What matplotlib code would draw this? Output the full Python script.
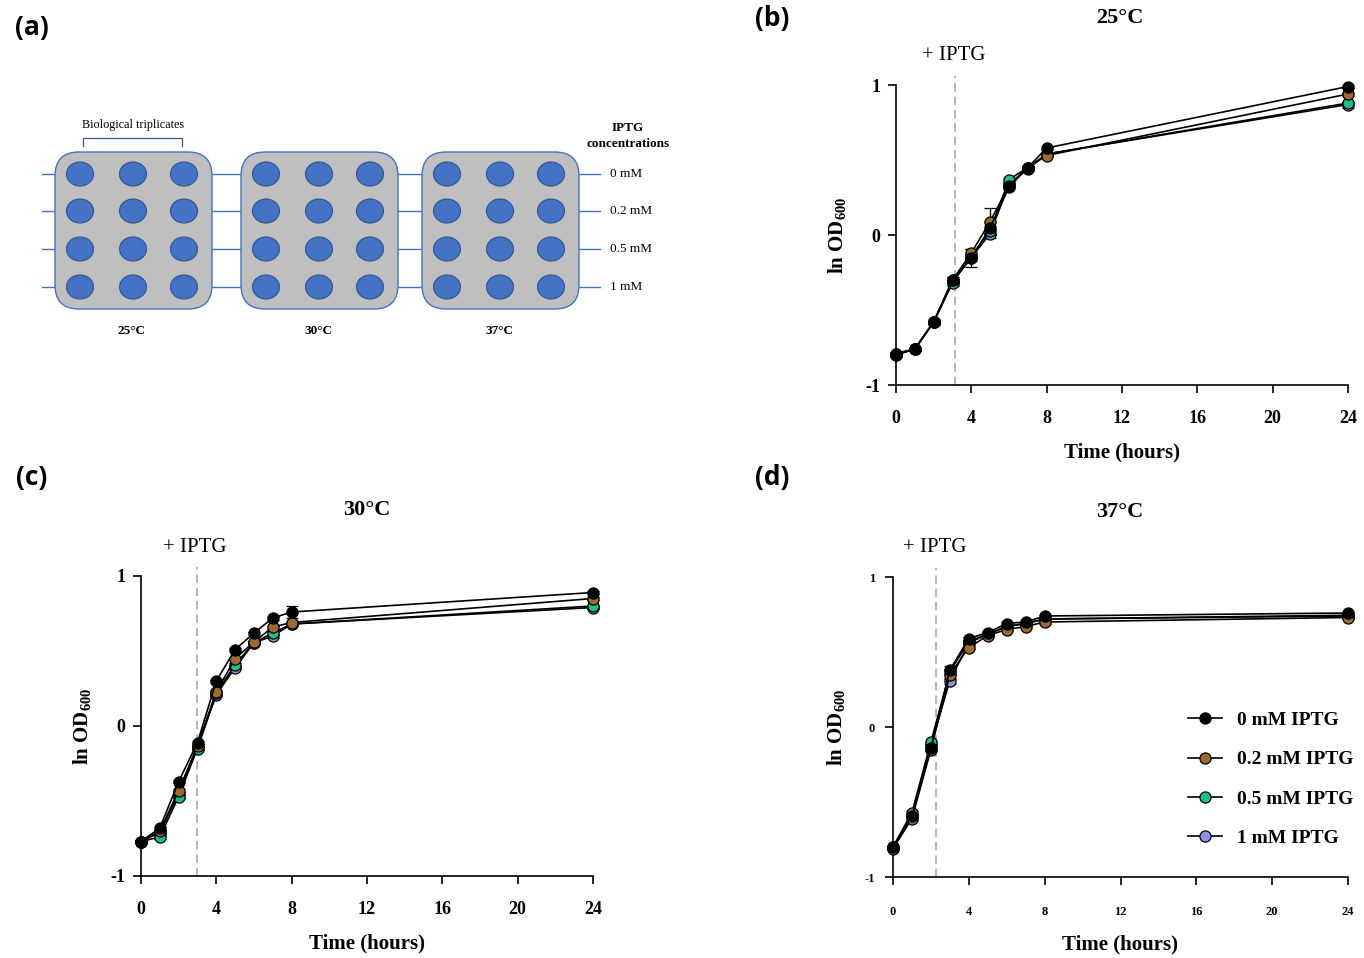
"""
Growth curves of the IPTG induction screen at three temperatures,
with the plate layout schematic in panel (a).
"""

import matplotlib
matplotlib.use("Agg")
import matplotlib.pyplot as plt
from matplotlib.patches import FancyBboxPatch, Ellipse
from matplotlib.lines import Line2D

plt.rcParams["font.family"] = ["Liberation Serif", "DejaVu Serif"]
plt.rcParams["mathtext.fontset"] = "custom"
plt.rcParams["mathtext.rm"] = "Liberation Serif"
plt.rcParams["mathtext.bf"] = "Liberation Serif:bold"
plt.rcParams["axes.unicode_minus"] = False

# --- Data (ln OD600) ---
hours = [0, 1, 2, 3, 4, 5, 6, 7, 8, 24]
conc_labels = ["0 mM IPTG", "0.2 mM IPTG", "0.5 mM IPTG", "1 mM IPTG"]
conc_colors = ["#000000", "#9c6b2e", "#19c282", "#8f8ff0"]

od25_0 = [-0.80, -0.76, -0.58, -0.30, -0.155, 0.05, 0.32, 0.45, 0.58, 0.99]
od25_02 = [-0.79, -0.76, -0.58, -0.30, -0.12, 0.09, 0.33, 0.45, 0.53, 0.94]
od25_05 = [-0.79, -0.76, -0.58, -0.32, -0.14, 0.03, 0.37, 0.45, 0.54, 0.88]
od25_1 = [-0.80, -0.76, -0.58, -0.31, -0.15, 0.01, 0.34, 0.44, 0.54, 0.87]
err25_0 = [0.01, 0.01, 0.02, 0.02, 0.06, 0.04, 0.01, 0.01, 0.01, 0.01]
err25_02 = [0.01, 0.01, 0.01, 0.02, 0.03, 0.09, 0.01, 0.01, 0.01, 0.01]
err25_05 = [0.01, 0.01, 0.01, 0.02, 0.02, 0.03, 0.01, 0.01, 0.01, 0.01]
err25_1 = [0.01, 0.01, 0.01, 0.02, 0.02, 0.03, 0.01, 0.01, 0.01, 0.02]

od30_0 = [-0.77, -0.68, -0.37, -0.11, 0.30, 0.51, 0.62, 0.72, 0.76, 0.89]
od30_02 = [-0.77, -0.70, -0.43, -0.13, 0.23, 0.45, 0.56, 0.66, 0.69, 0.85]
od30_05 = [-0.77, -0.74, -0.47, -0.15, 0.22, 0.41, 0.555, 0.62, 0.68, 0.80]
od30_1 = [-0.77, -0.71, -0.45, -0.14, 0.21, 0.39, 0.555, 0.60, 0.68, 0.79]
err30_0 = [0.01, 0.01, 0.01, 0.01, 0.01, 0.01, 0.01, 0.01, 0.04, 0.01]
err30_02 = [0.01, 0.01, 0.01, 0.01, 0.01, 0.01, 0.01, 0.01, 0.01, 0.01]
err30_05 = [0.01, 0.01, 0.01, 0.01, 0.01, 0.01, 0.01, 0.01, 0.01, 0.01]
err30_1 = [0.01, 0.01, 0.01, 0.01, 0.01, 0.01, 0.01, 0.01, 0.01, 0.01]

od37_0 = [-0.80, -0.59, -0.14, 0.38, 0.59, 0.63, 0.69, 0.70, 0.74, 0.76]
od37_02 = [-0.81, -0.61, -0.15, 0.35, 0.53, 0.61, 0.65, 0.67, 0.70, 0.73]
od37_05 = [-0.80, -0.57, -0.10, 0.37, 0.57, 0.62, 0.67, 0.69, 0.72, 0.74]
od37_1 = [-0.80, -0.59, -0.12, 0.31, 0.56, 0.62, 0.67, 0.69, 0.72, 0.745]
err37_0 = [0.01, 0.01, 0.01, 0.03, 0.01, 0.01, 0.01, 0.01, 0.01, 0.01]
err37_02 = [0.01, 0.01, 0.01, 0.03, 0.01, 0.01, 0.01, 0.01, 0.01, 0.01]
err37_05 = [0.01, 0.01, 0.01, 0.02, 0.01, 0.01, 0.01, 0.01, 0.01, 0.01]
err37_1 = [0.01, 0.01, 0.01, 0.02, 0.01, 0.01, 0.01, 0.01, 0.01, 0.01]

# IPTG addition time per temperature
iptg_time_25 = 3.15
iptg_time_30 = 2.95
iptg_time_37 = 2.25

# Schematic (a)
plate_temps = ["25°C", "30°C", "37°C"]
well_rows = ["0 mM", "0.2 mM", "0.5 mM", "1 mM"]

W, H = 1364, 958
fig = plt.figure(figsize=(W / 100, H / 100), dpi=100)
fig.patch.set_facecolor("white")

# =============================================================================
# Panel (a): plate layout, drawn in pixel coordinates
# =============================================================================
ax0 = fig.add_axes([0, 0, 1, 1])
ax0.set_xlim(0, W)
ax0.set_ylim(H, 0)
ax0.axis("off")

BLUE = "#4472c4"
row_y = [174, 211, 249, 287]
plate_x0 = [55, 241, 422]
plate_w, plate_h, plate_top = 157, 157, 152
col_dx = [25, 78, 129]

for y in row_y:
    ax0.plot([42, 600], [y, y], color=BLUE, lw=1.0, zorder=1)

for x0, temp in zip(plate_x0, plate_temps):
    plate = FancyBboxPatch((x0, plate_top), plate_w, plate_h,
                           boxstyle="round,pad=0,rounding_size=24",
                           facecolor="#bfbfbf", edgecolor=BLUE, lw=1.0, zorder=2)
    ax0.add_patch(plate)
    for y in row_y:
        for dx in col_dx:
            ax0.add_patch(Ellipse((x0 + dx, y), 27, 24, facecolor=BLUE,
                                  edgecolor="#2f528f", lw=0.8, zorder=3))
    ax0.text(x0 + 77, 331, temp, ha="center", va="center", fontsize=9.5,
             fontweight="bold")

for y, lab in zip(row_y, well_rows):
    ax0.text(610, y, lab, ha="left", va="center", fontsize=9.5)
ax0.text(628, 136, "IPTG\nconcentrations", ha="center", va="center",
         fontsize=9.5, fontweight="bold", linespacing=1.35)
ax0.text(133, 125, "Biological triplicates", ha="center", va="center",
         fontsize=8.7)
ax0.plot([83, 83, 182, 182], [146, 138, 138, 146], color="#3b5a8c", lw=0.9)

for lab, (x, y) in zip(["(a)", "(b)", "(c)", "(d)"],
                       [(32, 27), (772, 18), (32, 477), (772, 477)]):
    ax0.text(x, y, lab, ha="center", va="center", fontsize=19,
             fontweight="bold", family=["Open Sans", "DejaVu Sans"])


# =============================================================================
# Growth curve panels
# =============================================================================
def px_box(x0, x1, y_top, y_bot):
    return [x0 / W, 1 - y_bot / H, (x1 - x0) / W, (y_bot - y_top) / H]


def growth_panel(box, series, errors, iptg_t, title, title_xy, iptg_xy,
                 tick_fs, tick_pad, ytick_pad, ylab_x):
    ax = fig.add_axes(box)
    # plot highest concentration first so 0 mM ends up on top
    for vals, err, col in reversed(list(zip(series, errors, conc_colors))):
        ax.errorbar(hours, vals, yerr=err, color="black", lw=1.2,
                    marker="o", ms=8, mfc=col, mec="black", mew=0.9,
                    ecolor="black", elinewidth=1.0, capsize=4, capthick=1.0,
                    clip_on=False, zorder=4)
    ax.plot([iptg_t, iptg_t], [-1, 1.06], color="#a8a8a8", lw=1.2,
            ls=(0, (5, 3)), clip_on=False, zorder=2)
    ax.set_xlim(0, 24)
    ax.set_ylim(-1, 1)
    ax.set_xticks(range(0, 25, 4))
    ax.set_yticks([-1, 0, 1])
    for s in ["top", "right"]:
        ax.spines[s].set_visible(False)
    for s in ["left", "bottom"]:
        ax.spines[s].set_linewidth(1.2)
    ax.tick_params(axis="x", length=6, width=1.2, pad=tick_pad,
                   labelsize=tick_fs)
    ax.tick_params(axis="y", length=6, width=1.2, pad=ytick_pad,
                   labelsize=tick_fs)
    for t in ax.get_xticklabels() + ax.get_yticklabels():
        t.set_fontweight("bold")
    ax.set_xlabel("Time (hours)", fontsize=15, fontweight="bold")
    ax.xaxis.set_label_coords(0.5, -0.19)
    ax.set_ylabel(r"ln OD$_\mathbf{600}$", fontsize=15, fontweight="bold")
    ax.yaxis.set_label_coords(ylab_x, 0.5)
    ax0.text(*title_xy, title, ha="center", va="center", fontsize=16,
             fontweight="bold")
    ax0.text(*iptg_xy, "+ IPTG", ha="center", va="center", fontsize=15)
    return ax


ax_b = growth_panel(px_box(896, 1348, 85, 385),
                    [od25_0, od25_02, od25_05, od25_1],
                    [err25_0, err25_02, err25_05, err25_1],
                    iptg_time_25, "25°C", (1120, 18), (954, 55),
                    13, 12, 5, -47 / 452)
ax_c = growth_panel(px_box(141, 593, 576, 876),
                    [od30_0, od30_02, od30_05, od30_1],
                    [err30_0, err30_02, err30_05, err30_1],
                    iptg_time_30, "30°C", (367, 510), (195, 548),
                    13, 12, 5, -47 / 452)
ax_d = growth_panel(px_box(893, 1348, 577, 877),
                    [od37_0, od37_02, od37_05, od37_1],
                    [err37_0, err37_02, err37_05, err37_1],
                    iptg_time_37, "37°C", (1120, 512), (935, 548),
                    9, 15, 7, -45 / 455)

handles = [Line2D([], [], color="black", lw=1.2, marker="o", ms=8,
                  mfc=c, mec="black", mew=0.9) for c in conc_colors]
leg = ax_d.legend(handles, conc_labels, loc="upper left",
                  bbox_to_anchor=(1170 / W, 1 - 694 / H),
                  bbox_transform=fig.transFigure, frameon=False,
                  handlelength=1.75, handletextpad=0.8, labelspacing=1.12,
                  prop={"weight": "bold", "size": 14})

fig.savefig("out.png", dpi=100, facecolor="white")
